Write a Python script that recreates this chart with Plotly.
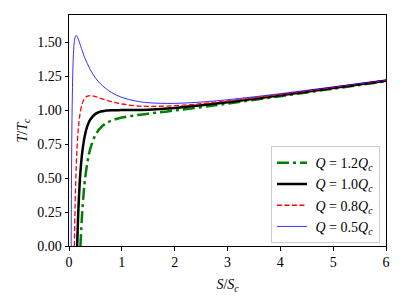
import plotly.graph_objects as go

# Values (S/S_c, T/T_c)
s_q12 = [0.2166, 0.22, 0.23, 0.25, 0.28, 0.30, 0.35, 0.40, 0.50, 0.60, 0.70, 0.80, 1.0, 1.25, 1.5, 2.0, 2.5, 3.0, 4.0, 5.0, 6.0]
t_q12 = [0.0, 0.0305, 0.1119, 0.2475, 0.4009, 0.4793, 0.6203, 0.7115, 0.8167, 0.8714, 0.9028, 0.9224, 0.945, 0.9613, 0.9737, 0.9970, 1.0217, 1.0479, 1.1025, 1.1578, 1.2125]

s_q10 = [0.1547, 0.16, 0.17, 0.18, 0.20, 0.22, 0.25, 0.30, 0.35, 0.40, 0.50, 0.60, 0.70, 0.80, 1.0, 1.25, 1.5, 2.0, 2.5, 3.0, 4.0, 5.0, 6.0]
t_q10 = [0.0, 0.0719, 0.1903, 0.2900, 0.4472, 0.5635, 0.6875, 0.8140, 0.8859, 0.9290, 0.9723, 0.9898, 0.9967, 0.9993, 1.0, 1.0006, 1.0036, 1.0165, 1.0357, 1.0585, 1.1094, 1.1628, 1.2163]

s_q08 = [0.1015, 0.11, 0.12, 0.14, 0.16, 0.18, 0.20, 0.25, 0.30, 0.35, 0.40, 0.50, 0.60, 0.80, 1.0, 1.25, 1.5, 2.0, 2.5, 3.0, 4.0, 5.0, 6.0]
t_q08 = [0.0, 0.1929, 0.3705, 0.6176, 0.7750, 0.8793, 0.9504, 1.0475, 1.0878, 1.1032, 1.1068, 1.0996, 1.0866, 1.0621, 1.0450, 1.0328, 1.0281, 1.0324, 1.0470, 1.0671, 1.1150, 1.1668, 1.2193]

s_q05 = [0.0408, 0.045, 0.05, 0.06, 0.08, 0.10, 0.12, 0.134, 0.15, 0.18, 0.20, 0.25, 0.30, 0.40, 0.50, 0.60, 0.80, 1.0, 1.25, 1.5, 2.0, 2.5, 3.0, 4.0, 5.0, 6.0]
t_q05 = [0.0, 0.3414, 0.6429, 1.0274, 1.3767, 1.5021, 1.5432, 1.5490, 1.5438, 1.5177, 1.4954, 1.4375, 1.3845, 1.2996, 1.2375, 1.1915, 1.1303, 1.0938, 1.0677, 1.0546, 1.0496, 1.0594, 1.0765, 1.1211, 1.1711, 1.2226]

labels = ["&nbsp;<i>Q</i> = 1.2<i>Q</i><sub><i>c</i></sub>",
          "&nbsp;<i>Q</i> = 1.0<i>Q</i><sub><i>c</i></sub>",
          "&nbsp;<i>Q</i> = 0.8<i>Q</i><sub><i>c</i></sub>",
          "&nbsp;<i>Q</i> = 0.5<i>Q</i><sub><i>c</i></sub>"]

x_ticks = [0, 1, 2, 3, 4, 5, 6]
y_ticks = [0.0, 0.25, 0.5, 0.75, 1.0, 1.25, 1.5]

fig = go.Figure()
fig.add_trace(go.Scatter(x=s_q12, y=t_q12, mode="lines", name=labels[0],
                         line=dict(color="green", width=2.5, dash="12px,4px,3px,4px", shape="spline")))
fig.add_trace(go.Scatter(x=s_q10, y=t_q10, mode="lines", name=labels[1],
                         line=dict(color="black", width=2.5, shape="spline")))
fig.add_trace(go.Scatter(x=s_q08, y=t_q08, mode="lines", name=labels[2],
                         line=dict(color="red", width=1.3, dash="5px,2.5px", shape="spline")))
fig.add_trace(go.Scatter(x=s_q05, y=t_q05, mode="lines", name=labels[3],
                         line=dict(color="blue", width=0.8, shape="spline")))

font_family = "Liberation Serif"
fig.update_layout(
    width=406, height=304,
    margin=dict(l=69, r=20, t=15, b=58),
    paper_bgcolor="white", plot_bgcolor="white",
    font=dict(family=font_family, size=14, color="black"),
    showlegend=True,
    legend=dict(x=0.981, y=0.012, xanchor="right", yanchor="bottom",
                bgcolor="rgba(255,255,255,0.8)", bordercolor="#cccccc", borderwidth=1,
                font=dict(family=font_family, size=14), itemwidth=30,
                tracegroupgap=0),
)
fig.update_xaxes(range=[0, 6], tickvals=x_ticks, ticktext=[str(v) for v in x_ticks],
                 showgrid=False, zeroline=False, showline=True, linecolor="black", linewidth=1,
                 mirror=True, ticks="outside", ticklen=3.5, tickcolor="black",
                 title=dict(text="<i>S</i>/<i>S</i><sub><i>c</i></sub>", standoff=9, font=dict(size=14)))
fig.update_yaxes(range=[0, 1.7], tickvals=y_ticks, ticktext=[f"{v:.2f}" for v in y_ticks],
                 showgrid=False, zeroline=False, showline=True, linecolor="black", linewidth=1,
                 mirror=True, ticks="outside", ticklen=3.5, tickcolor="black",
                 title=dict(text="<i>T</i>/<i>T</i><sub><i>c</i></sub>", standoff=6, font=dict(size=14)))

fig.write_html("out.html", config={"displayModeBar": False},
               post_script="document.body.style.margin='0';document.body.style.overflow='hidden';")
